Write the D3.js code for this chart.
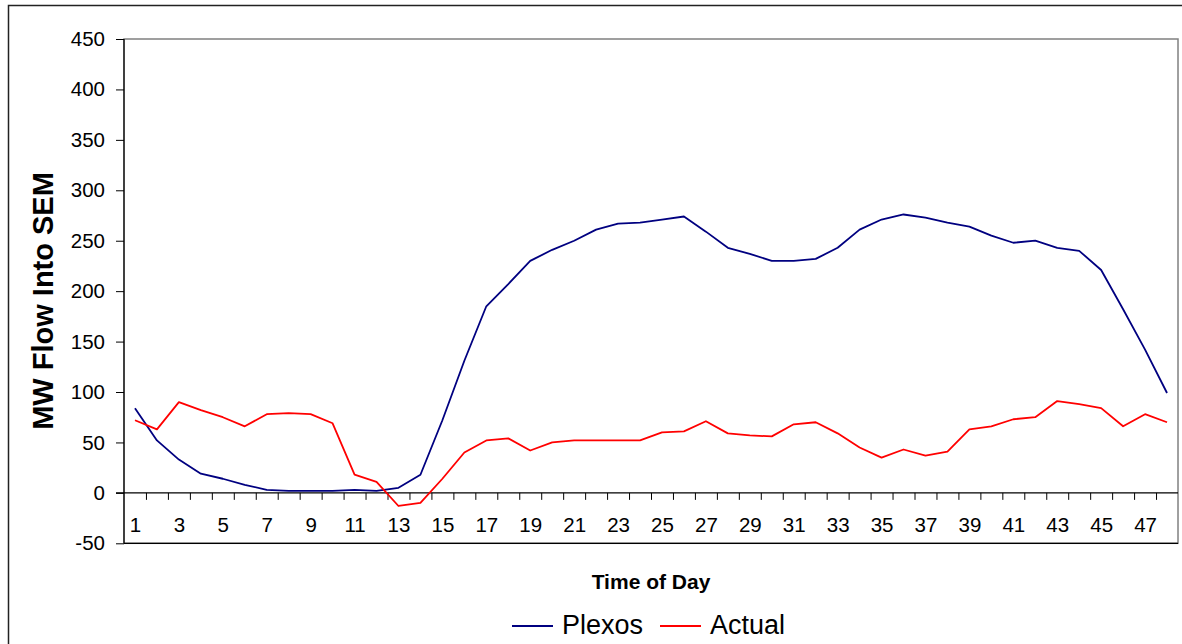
<!DOCTYPE html>
<html lang="en">
	<head>
		<meta charset="utf-8">
		<title>MW Flow Into SEM</title>
		<script type="text/javascript" src="https://cdn.jsdelivr.net/npm/d3@7"></script>
		<style type="text/css">
			body { margin: 0; background: #fff; }
			text { font-family: "Liberation Sans", Arial, sans-serif; fill: #000; }
		</style>
	</head>
	<body>
		<script type="text/javascript">
			//Data
			var periods = d3.range(1, 49);
			var plexos = [84, 52, 33, 19, 14, 8, 3, 2, 2, 2, 3, 2,
			              5, 18, 72, 131, 185, 207, 230, 241, 250, 261, 267, 268,
			              271, 274, 259, 243, 237, 230, 230, 232, 243, 261, 271, 276,
			              273, 268, 264, 255, 248, 250, 243, 240, 221, 182, 142, 99];
			var actual = [72, 63, 90, 82, 75, 66, 78, 79, 78, 69, 18, 11,
			              -13, -10, 14, 40, 52, 54, 42, 50, 52, 52, 52, 52,
			              60, 61, 71, 59, 57, 56, 68, 70, 59, 45, 35, 43,
			              37, 41, 63, 66, 73, 75, 91, 88, 84, 66, 78, 70];
			var yTicks = [-50, 0, 50, 100, 150, 200, 250, 300, 350, 400, 450];
			var seriesNames = ["Plexos", "Actual"];
			var seriesColors = ["#000080", "#ff0000"];

			//Width and height
			var w = 1182;
			var h = 644;
			var plotLeft = 124, plotRight = 1178, plotTop = 39, plotBottom = 543.3;

			var svg = d3.select("body")
						.append("svg")
						.attr("width", w)
						.attr("height", h);

			//Outer chart border
			svg.append("rect")
			   .attr("x", 8.5)
			   .attr("y", 5.5)
			   .attr("width", 1190)
			   .attr("height", 660)
			   .attr("fill", "none")
			   .attr("stroke", "#222")
			   .attr("stroke-width", 1.5);

			var xScale = d3.scaleLinear()
						   .domain([0.5, 48.5])
						   .range([plotLeft, plotRight]);

			var yScale = d3.scaleLinear()
						   .domain([-50, 450])
						   .range([plotBottom, plotTop]);

			//Plot area border
			svg.append("rect")
			   .attr("x", plotLeft)
			   .attr("y", plotTop)
			   .attr("width", plotRight - plotLeft)
			   .attr("height", plotBottom - plotTop)
			   .attr("fill", "none")
			   .attr("stroke", "#808080")
			   .attr("stroke-width", 1.5);

			svg.append("line")
			   .attr("x1", plotLeft).attr("x2", plotRight)
			   .attr("y1", plotBottom).attr("y2", plotBottom)
			   .attr("stroke", "#000").attr("stroke-width", 1.2);

			//Y axis (plain hyphen for negatives, like the original)
			var yAxis = d3.axisLeft(yScale)
						  .tickValues(yTicks)
						  .tickSize(8)
						  .tickPadding(11)
						  .tickFormat(function(d) { return String(d); });

			var gy = svg.append("g")
			   .attr("transform", "translate(" + plotLeft + ",0)")
			   .call(yAxis);
			gy.select(".domain").attr("d", "M0," + plotTop + "V" + plotBottom).attr("stroke", "#000").attr("stroke-width", 1.2);
			gy.selectAll("text").style("font-size", "20.5px").attr("font-family", null);

			//X axis at zero: tick marks between periods
			var y0 = yScale(0);
			var xTickAxis = d3.axisBottom(xScale)
							  .tickValues(d3.range(1.5, 48, 1))
							  .tickSize(7)
							  .tickFormat("");
			var gx = svg.append("g")
			   .attr("transform", "translate(0," + y0 + ")")
			   .call(xTickAxis);
			gx.select(".domain").attr("d", "M" + (plotLeft - 8) + ",0H" + plotRight).attr("stroke", "#000").attr("stroke-width", 1.2);

			//X labels every other period
			var xLabelAxis = d3.axisBottom(xScale)
							   .tickValues(periods.filter(function(d) { return d % 2 === 1; }))
							   .tickSize(0)
							   .tickPadding(25);
			var gl = svg.append("g")
			   .attr("transform", "translate(0," + y0 + ")")
			   .call(xLabelAxis);
			gl.select(".domain").remove();
			gl.selectAll("text").style("font-size", "20.5px").attr("font-family", null);

			//Lines
			var line = d3.line()
						 .x(function(d, i) { return xScale(periods[i]); })
						 .y(function(d) { return yScale(d); });

			[plexos, actual].forEach(function(series, i) {
				svg.append("path")
				   .datum(series)
				   .attr("d", line)
				   .attr("fill", "none")
				   .attr("stroke", seriesColors[i])
				   .attr("stroke-width", 1.8)
				   .attr("stroke-linejoin", "round");
			});

			//Axis titles
			svg.append("text")
			   .attr("x", (plotLeft + plotRight) / 2)
			   .attr("y", 589)
			   .attr("text-anchor", "middle")
			   .style("font-size", "21px")
			   .style("font-weight", "bold")
			   .text("Time of Day");

			svg.append("text")
			   .attr("transform", "translate(53,301) rotate(-90)")
			   .attr("text-anchor", "middle")
			   .style("font-size", "29px")
			   .style("font-weight", "bold")
			   .text("MW Flow Into SEM");

			//Legend
			var legendX = [512, 660];
			seriesNames.forEach(function(name, i) {
				svg.append("line")
				   .attr("x1", legendX[i]).attr("x2", legendX[i] + 41)
				   .attr("y1", 626).attr("y2", 626)
				   .attr("stroke", seriesColors[i])
				   .attr("stroke-width", 1.8);
				svg.append("text")
				   .attr("x", legendX[i] + 50)
				   .attr("y", 633.5)
				   .style("font-size", "27px")
				   .text(name);
			});
		</script>
	</body>
</html>
